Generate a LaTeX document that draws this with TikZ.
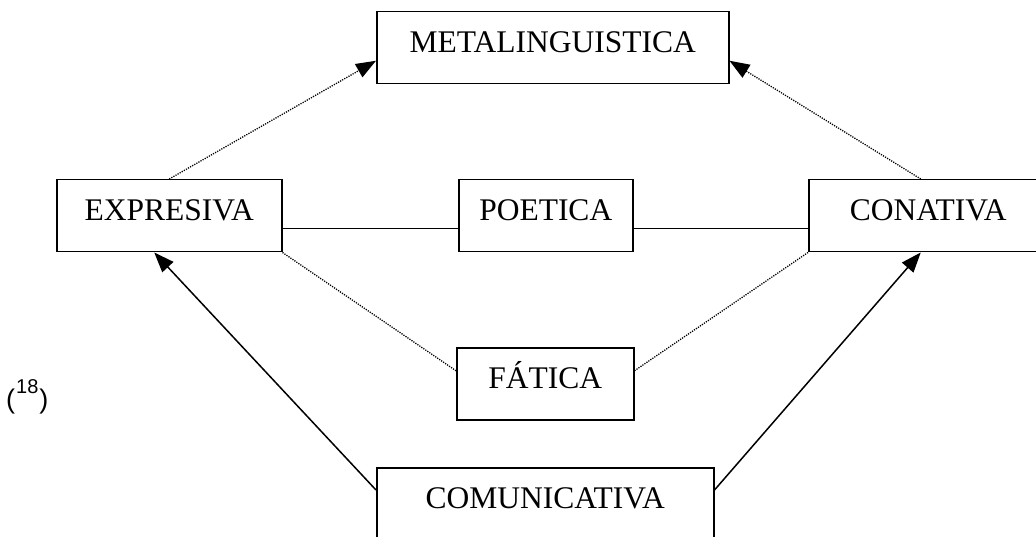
\documentclass[tikz,border=0pt]{standalone}
\usepackage{fontspec}
\setmainfont{Liberation Serif}
\newfontfamily\arialfont{Liberation Sans}
\usetikzlibrary{arrows.meta}
\begin{document}
\begin{tikzpicture}[x=1pt,y=-1pt,
  fbox/.style={draw,line width=1.5pt,inner xsep=0pt,inner ysep=0pt,
    text height=41pt,text depth=31pt,anchor=north west,
    font=\fontsize{31.5}{36}\selectfont},
  dotline/.style={line width=1.3pt,dash pattern=on 1.2pt off 1.2pt},
  solidline/.style={line width=1.5pt},
  tip/.style={-{Triangle[length=20pt,width=15pt]}}]
\useasboundingbox (0,0) rectangle (1036,537);
\clip (0,0) rectangle (1036,537);
\node[fbox,minimum width=352pt] (meta) at (376,11) {METALINGUISTICA};
\node[fbox,minimum width=225pt] (expr) at (56,179) {EXPRESIVA};
\node[fbox,minimum width=239pt] (conat) at (808,179) {CONATIVA};
\node[fbox,minimum width=174pt] (poet) at (458,179) {POETICA};
\node[fbox,minimum width=177pt] (fat) at (456,347) {FÁTICA};
\node[fbox,minimum width=337pt] (comu) at (376,467) {COMUNICATIVA};
\node[anchor=base west,inner sep=0pt] (fn) at (6,408)
  {\arialfont\fontsize{27}{30}\selectfont(\raisebox{15pt}{\fontsize{20}{22}\selectfont\hspace{1pt}18\hspace{1pt}})};
% dotted arrows to METALINGUISTICA
\draw[dotline,tip] (expr.north) -- ([yshift=-13pt]meta.west);
\draw[dotline,tip] ([xshift=-7.5pt]conat.north) -- ([yshift=-13pt]meta.east);
% solid lines through POETICA
\draw[solidline] ([yshift=-13pt]expr.east) -- ([yshift=-13pt]poet.west);
\draw[solidline] ([yshift=-13pt]poet.east) -- ([yshift=-13pt]conat.west);
% dotted lines to FATICA
\draw[dotline] (expr.south east) -- ([yshift=13pt]fat.west);
\draw[dotline] ([yshift=13pt]fat.east) -- (conat.south west);
% arrows from COMUNICATIVA
\draw[solidline,tip] ([yshift=-23pt]comu.north west) -- ([xshift=-15pt]expr.south);
\draw[solidline,tip] ([yshift=-23pt]comu.north east) -- ([xshift=-7.5pt]conat.south);
\end{tikzpicture}
\end{document}
